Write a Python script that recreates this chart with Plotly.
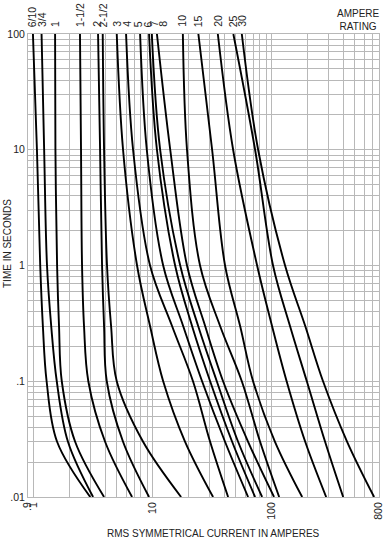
import math
import plotly.graph_objects as go

# time levels (seconds) at which each curve's current was read
times = [100, 10, 1, 0.3, 0.1, 0.03, 0.01]

ratings = ["6/10", "3/4", "1", "1-1/2", "2", "2-1/2", "3", "4", "5",
           "6", "7", "8", "10", "15", "20", "25", "30"]

# current (A) at each time level, per ampere rating
c_6_10 = [0.99, 1.07, 1.14, 1.2, 1.29, 1.58, 3.0]
c_3_4 = [1.17, 1.23, 1.3, 1.41, 1.57, 1.95, 3.17]
c_1 = [1.52, 1.53, 1.58, 1.64, 1.73, 2.24, 3.92]
c_1_5 = [2.46, 2.51, 2.56, 2.66, 2.89, 4.0, 6.74]
c_2 = [3.49, 3.63, 3.77, 3.92, 4.13, 5.66, 9.36]
c_2_5 = [3.82, 3.92, 4.15, 4.49, 5.01, 8.34, 17.4]
c_3 = [5.01, 5.66, 7.42, 9.54, 12.3, 18.8, 32.3]
c_4 = [6.0, 6.87, 9.54, 14.6, 21.9, 30.5, 43.2]
c_5 = [7.87, 8.96, 12.3, 18.1, 26.1, 40.7, 63.6]
c_6 = [9.36, 10.9, 15.5, 21.5, 30.5, 46.7, 72.8]
c_7 = [9.87, 11.6, 17.1, 24.2, 34.7, 52.4, 83.4]
c_8 = [10.9, 14.1, 19.5, 27.7, 39.2, 63.6, 105]
c_10 = [18.0, 19.5, 25.1, 37.0, 56.3, 80.2, 116]
c_15 = [24.3, 31.7, 40.7, 54.5, 70.0, 107, 181]
c_20 = [35.4, 47.6, 75.7, 101, 134, 192, 288]
c_25 = [47.8, 72.8, 103, 143, 198, 282, 400]
c_30 = [56.3, 77.2, 130, 192, 271, 432, 728]

curves = [c_6_10, c_3_4, c_1, c_1_5, c_2, c_2_5, c_3, c_4, c_5,
          c_6, c_7, c_8, c_10, c_15, c_20, c_25, c_30]

# where each rating label sits along the current axis (A)
label_at = [0.968, 1.17, 1.52, 2.46, 3.40, 3.87, 5.01, 6.08, 7.61,
            9.24, 10.2, 12.2, 17.6, 24.3, 35.4, 47.8, 56.3]

x_ticks = [0.9, 1, 10, 100, 800]
x_tick_text = [".9", "1", "10", "100", "800"]
y_ticks = [0.01, 0.1, 1, 10, 100]
y_tick_text = [".01", ".1", "1", "10", "100"]


def log_grid(lo_exp, hi_exp):
    vals = []
    for e in range(lo_exp, hi_exp + 1):
        for m in range(1, 10):
            vals.append(round(m * 10 ** e, 6))
    return vals


x_grid = [v for v in log_grid(-1, 2) if 0.9 <= v <= 800]
y_grid = [v for v in log_grid(-2, 2) if 0.01 <= v <= 100]

x_text = [x_tick_text[x_ticks.index(v)] if v in x_ticks else "" for v in x_grid]
y_text = [y_tick_text[y_ticks.index(v)] if v in y_ticks else "" for v in y_grid]

FONT = "Liberation Sans, Arial, sans-serif"
GRID = "#b8b8b8"

fig = go.Figure()
for name, cur in zip(ratings, curves):
    fig.add_trace(go.Scatter(
        x=cur, y=times, mode="lines", name=name,
        line=dict(color="black", width=1.9, shape="spline", smoothing=1.0),
        showlegend=False, hoverinfo="skip"))

for name, xa in zip(ratings, label_at):
    fig.add_annotation(
        x=math.log10(xa), y=1, xref="x", yref="paper", text=name,
        textangle=-90, showarrow=False, xanchor="center", yanchor="bottom",
        yshift=5, font=dict(family=FONT, size=10.5, color="#222"))

fig.add_annotation(
    x=(358 - 28) / 351, y=1, xref="paper", yref="paper",
    text="AMPERE<br>RATING", showarrow=False, align="center",
    xanchor="center", yanchor="middle", yshift=14,
    font=dict(family=FONT, size=10, color="#222"))

fig.add_annotation(
    x=(213.5 - 28) / 351, y=0, xref="paper", yref="paper",
    text="RMS SYMMETRICAL CURRENT IN AMPERES", showarrow=False,
    xanchor="center", yanchor="middle", yshift=-36,
    font=dict(family=FONT, size=10, color="#222"))

fig.add_annotation(
    x=0, y=(497 - 244) / 463, xref="paper", yref="paper",
    text="TIME IN SECONDS", textangle=-90, showarrow=False,
    xanchor="center", yanchor="middle", xshift=-21,
    font=dict(family=FONT, size=10, color="#222"))

fig.update_xaxes(
    type="log", range=[-0.045757, 2.90309], tickvals=x_grid, ticktext=x_text,
    tickangle=-90, showgrid=True, gridcolor=GRID, gridwidth=1,
    showline=True, linecolor=GRID, linewidth=1, mirror=True, ticks="",
    zeroline=False, automargin=False,
    tickfont=dict(family=FONT, size=10.5, color="#222"))
fig.update_yaxes(
    type="log", range=[-2, 2], tickvals=y_grid, ticktext=y_text,
    showgrid=True, gridcolor=GRID, gridwidth=1,
    showline=True, linecolor=GRID, linewidth=1, mirror=True, ticks="",
    zeroline=False, automargin=False,
    tickfont=dict(family=FONT, size=10.5, color="#222"))

fig.update_layout(
    width=389, height=547,
    margin=dict(l=28, r=10, t=34, b=50, autoexpand=False),
    paper_bgcolor="white", plot_bgcolor="white",
    hovermode=False,
)

fig.write_html(
    "out.html",
    config={"displayModeBar": False, "staticPlot": True},
    post_script="document.body.style.margin='0';"
                "document.body.style.overflow='hidden';")
